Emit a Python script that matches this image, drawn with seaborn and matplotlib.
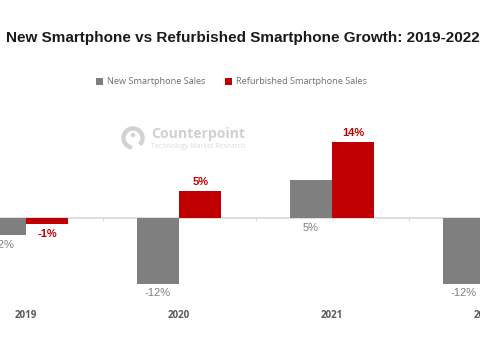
# Import the necessary libraries
import pandas as pd
import seaborn as sns
import matplotlib.pyplot as plt
from matplotlib.patches import Circle, Wedge
from matplotlib.transforms import Affine2D

# Values (bar heights and printed labels do not always agree)
years = ['2019', '2020', '2021', '2022']
new_sales = [-3, -12, 7, -12]
refurb_sales = [-1, 5, 14, None]
new_labels = ['-2%', '-12%', '5%', '-12%']
refurb_labels = ['-1%', '5%', '14%', '']

GREY = '#7f7f7f'
RED = '#c00000'

df = pd.DataFrame({
    'year': years * 2,
    'growth': new_sales + refurb_sales,
    'series': ['New Smartphone Sales'] * 4 + ['Refurbished Smartphone Sales'] * 4,
})

sns.set_theme(style='white')
plt.rcParams['font.family'] = ['Liberation Sans', 'DejaVu Sans']

fig = plt.figure(figsize=(4.8, 3.6), dpi=100)
# the axes run past the canvas so the outer bars get cut off like in the original
ax = fig.add_axes([-50.5 / 480, (360 - 305.4) / 360, 612 / 480, 173.8 / 360])

sns.barplot(data=df, x='year', y='growth', hue='series', order=years,
            palette=[GREY, RED], width=0.553, gap=0, saturation=1, linewidth=0, ax=ax)
ax.set_xlim(-0.5, 3.5)
ax.set_ylim(-16, 16)
ax.set_xlabel('')
ax.set_ylabel('')
ax.set_yticks([])

# baseline at zero with small ticks between the years
for side in ['top', 'left', 'right']:
    ax.spines[side].set_visible(False)
ax.spines['bottom'].set_position(('data', 0))
ax.spines['bottom'].set_color('#d9d9d9')
ax.spines['bottom'].set_zorder(0)
ax.set_xticks([0.5, 1.5, 2.5], minor=True)
ax.tick_params(axis='x', which='minor', bottom=True, length=2.5, width=0.7, color='#d9d9d9')
ax.tick_params(axis='x', which='major', bottom=False, pad=60)
for lab in ax.get_xticklabels():
    lab.set_fontfamily(['Open Sans', 'DejaVu Sans'])
    lab.set_fontweight('bold')
    lab.set_fontsize(7)
    lab.set_color('#595959')

# data labels
offset = 0.2765 / 2
for i, (nv, rv) in enumerate(zip(new_sales, refurb_sales)):
    ax.annotate(new_labels[i], (i - offset, min(nv, 0)), xytext=(0, -7), textcoords='offset points',
                ha='center', va='center', fontsize=8, color=GREY)
    if rv is not None:
        off = 7 if rv > 0 else -7
        ax.annotate(refurb_labels[i], (i + offset, rv), xytext=(0, off), textcoords='offset points',
                    ha='center', va='center', fontsize=8, fontweight='bold', color=RED)

# legend
leg = ax.legend(ncol=2, frameon=False, loc='center left', bbox_to_anchor=(96 / 480, 1 - 82 / 360),
                bbox_transform=fig.transFigure, handlelength=0.75, handleheight=0.75,
                handletextpad=0.45, columnspacing=2.1, borderpad=0, borderaxespad=0,
                prop={'family': ['Open Sans', 'DejaVu Sans'], 'size': 6.6})
for t in leg.get_texts():
    t.set_color('#6f6f6f')

# title
fig.text(243 / 480, 1 - 38 / 360, 'New Smartphone vs Refurbished Smartphone Growth: 2019-2022',
         ha='center', va='center', fontsize=11, fontweight='bold', color='#1a1a1a')

# watermark
px = Affine2D().scale(1, -1).translate(0, 360)
fig.add_artist(Wedge((133, 138), 11, 100, 40, width=3, color='#d2d2d2', transform=px))
fig.add_artist(Circle((133, 135), 1.5, color='#d2d2d2', transform=px))
fig.text(151 / 480, 1 - 134 / 360, 'Counterpoint', ha='left', va='center', fontsize=10.1,
         fontweight='bold', color='#d0d0d0', family=['Open Sans', 'DejaVu Sans'])
fig.text(151 / 480, 1 - 146 / 360, 'Technology Market Research', ha='left', va='center', fontsize=5,
         color='#dcdcdc', family=['Open Sans', 'DejaVu Sans'])

fig.savefig('out.png', dpi=100, facecolor='white')
